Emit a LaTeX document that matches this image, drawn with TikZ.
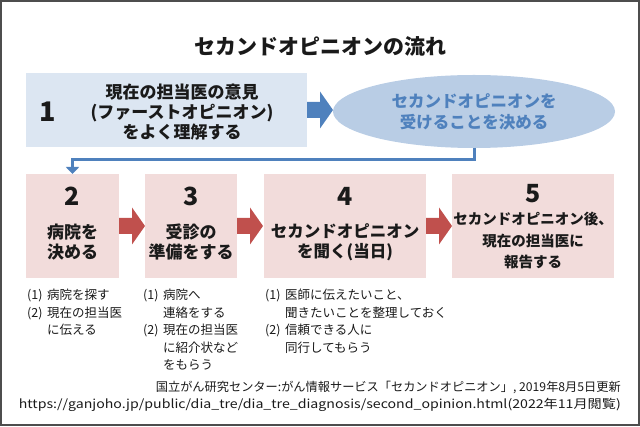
\documentclass[tikz,border=0pt]{standalone}
\usepackage{fontspec}
\setmainfont{Noto Sans CJK JP}
\usetikzlibrary{arrows.meta,positioning,shapes.geometric}
\definecolor{ink}{HTML}{1A1A1A}
\definecolor{framegray}{HTML}{4D4D4D}
\definecolor{step1fill}{HTML}{DCE6F2}
\definecolor{ideafill}{HTML}{B9CDE5}
\definecolor{ideatext}{HTML}{4F81BD}
\definecolor{linkblue}{HTML}{4F81BD}
\definecolor{pinkfill}{HTML}{F2DCDB}
\definecolor{arrowred}{HTML}{C0504D}
\newcommand{\fs}[2]{\fontsize{#1}{#2}\selectfont}
\newcommand{\lbl}[1]{\makebox[20pt][l]{#1}}

\begin{document}
\begin{tikzpicture}[
  x=1pt, y=-1pt,
  stepbox/.style={draw=none, inner sep=0pt, outer sep=0pt},
  idea/.style={ellipse, draw=none, fill=ideafill, inner sep=0pt, outer sep=0pt,
    minimum width=282, minimum height=73, align=center, text=ideatext,
    font=\bfseries\fs{16.5}{21}},
  num/.style={font=\bfseries\fs{25}{25}, text=ink, inner sep=0pt},
  boxtext/.style={font=\bfseries\fs{17}{20}, text=ink, align=center, inner sep=0pt},
  note/.style={font=\fs{12.5}{17.5}, text=ink, align=left, inner sep=0pt, anchor=north west},
  src/.style={font=\fs{12.2}{17}, text=ink, inner sep=0pt, anchor=base east},
  link/.style={draw=linkblue, line width=3pt, -{Triangle[length=7pt,width=13pt]}},
  blockarr/.pic={\fill (0,-8) -- (13,-8) -- (13,-18.5) -- (26,0) -- (13,18.5) -- (13,8) -- (0,8) -- cycle;}
]
\useasboundingbox (0,0) rectangle (640,427);

%% ---------- frame & title ----------
\draw[framegray, line width=2pt] (1,1) rectangle (638.5,425.5);
\node[font=\bfseries\fs{21}{21}, text=ink] (ttl) at (320,46) {セカンドオピニオンの流れ};

%% ---------- step 1 ----------
\node[stepbox, fill=step1fill, minimum width=281, minimum height=74] (step1) at (166.5,110) {};
\node[num, font=\bfseries\fs{27}{27}] (n1) at (48,112) {1};
\node[boxtext] (t1) at (182,112) {現在の担当医の意見\\(ファーストオピニオン)\\をよく理解する};

\node[idea] (decide) at (474,111.5) {セカンドオピニオンを\\受けることを決める};

%% ---------- steps 2-5 ----------
\node[stepbox, fill=pinkfill, minimum width=93, minimum height=104] (step2) at (72.5,226) {};
\node[stepbox, fill=pinkfill, minimum width=92, minimum height=104] (step3) at (191,226) {};
\node[stepbox, fill=pinkfill, minimum width=162, minimum height=104] (step4) at (345,226) {};
\node[stepbox, fill=pinkfill, minimum width=162, minimum height=104] (step5) at (533,226) {};

\node[num] (n2) at (72.5,196) {2};
\node[num] (n3) at (191,196) {3};
\node[num] (n4) at (345,196) {4};
\node[num] (n5) at (533,194) {5};

\node[boxtext] (t2) at (72.5,242) {病院を\\決める};
\node[boxtext] (t3) at (191,242) {受診の\\準備をする};
\node[boxtext, font=\bfseries\fs{16.5}{20}] (t4) at (345,242) {セカンドオピニオン\\を聞く(当日)};
\node[boxtext, font=\bfseries\fs{14.5}{21.5}] (t5) at (533,240.5) {セカンドオピニオン後、\\現在の担当医に\\報告する};

%% ---------- arrows ----------
\pic[fill=linkblue] at (step1.east) {blockarr};
\pic[fill=arrowred] at (step2.east) {blockarr};
\pic[fill=arrowred] at (step3.east) {blockarr};
\pic[fill=arrowred] at (step4.east) {blockarr};

\draw[link] (decide.south) -- ++(0,11.5) -| (step2.north);

%% ---------- notes ----------
\node[note] (note2) at (27,289) {\lbl{(1)}病院を探す\\\lbl{(2)}現在の担当医\\\hspace*{20pt}に伝える};
\node[note] (note3) at (143,289) {\lbl{(1)}病院へ\\\hspace*{20pt}連絡をする\\\lbl{(2)}現在の担当医\\\hspace*{20pt}に紹介状など\\\hspace*{20pt}をもらう};
\node[note] (note4) at (265,289) {\lbl{(1)}医師に伝えたいこと、\\\hspace*{20pt}聞きたいことを整理しておく\\\lbl{(2)}信頼できる人に\\\hspace*{20pt}同行してもらう};

%% ---------- source ----------
\node[src] (src1) at (621,391.5) {国立がん研究センター:がん情報サービス「セカンドオピニオン」, 2019年8月5日更新};
\node[src] (src2) at (621,408.5) {\scalebox{1.16}[1]{https://ganjoho.jp/public/dia\_tre/dia\_tre\_diagnosis/second\_opinion.html(2022年11月閲覧)}};

\end{tikzpicture}
\end{document}
